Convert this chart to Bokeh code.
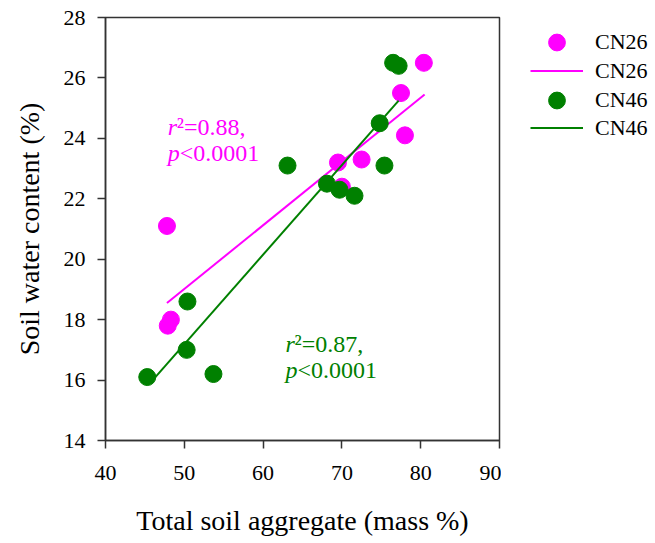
from bokeh.plotting import figure
from bokeh.layouts import row
from bokeh.models import Legend, LegendItem, Range1d, FixedTicker
from bokeh.core.properties import value
from bokeh.embed import file_html
from bokeh.resources import INLINE

# ---- data ----
cn26_x = [47.8, 47.9, 48.3, 69.5, 70.0, 72.5, 77.5, 78.0, 80.4]
cn26_y = [21.1, 17.8, 18.0, 23.2, 22.4, 23.3, 25.5, 24.1, 26.5]
cn46_x = [45.3, 50.3, 50.4, 53.7, 63.1, 68.1, 69.7, 71.6, 74.8, 75.4, 76.5, 77.2]
cn46_y = [16.1, 17.0, 18.6, 16.2, 23.1, 22.5, 22.3, 22.1, 24.5, 23.1, 26.5, 26.4]
fit26_x = [47.8, 80.5]
fit26_y = [18.55, 25.45]
fit46_x = [46.3, 77.2]
fit46_y = [16.09, 25.25]
x_ticks = [40, 50, 60, 70, 80, 90]
y_ticks = [14, 16, 18, 20, 22, 24, 26, 28]
ann26_pos = (47.9, 24.36)
ann46_pos = (62.85, 17.2)
ann26_lines = [("r", "²=0.88,"), ("p", "<0.0001")]
ann46_lines = [("r", "²=0.87,"), ("p", "<0.0001")]
series_labels = ["CN26", "CN46"]

MAG = "#FF00FF"
GRN = "#008000"
FONT = "Liberation Serif"
AXC = "#333333"

p = figure(width=501, height=543, output_backend="svg", toolbar_location=None,
           x_range=Range1d(40, 90), y_range=Range1d(14, 28),
           min_border_left=105, min_border_top=17, min_border_right=2, min_border_bottom=103)
p.grid.visible = False
p.outline_line_color = AXC
p.outline_line_width = 1.5
p.background_fill_color = "white"
p.border_fill_color = "white"

for ax, ticks in ((p.xaxis, x_ticks), (p.yaxis, y_ticks)):
    ax.ticker = FixedTicker(ticks=ticks)
    ax.minor_tick_line_color = None
    ax.major_tick_in = 0
    ax.major_tick_out = 8
    ax.axis_line_color = AXC
    ax.axis_line_width = 1.5
    ax.major_tick_line_color = AXC
    ax.major_tick_line_width = 1.5
    ax.major_label_text_font = FONT
    ax.major_label_text_font_size = "22px"
    ax.major_label_text_color = "black"
    ax.axis_label_text_font = FONT
    ax.axis_label_text_font_size = "28px"
    ax.axis_label_text_font_style = "normal"
    ax.axis_label_text_color = "black"

p.xaxis.axis_label = "Total soil aggregate (mass %)"
p.yaxis.axis_label = "Soil water content (%)"
p.xaxis.major_label_standoff = 17
p.yaxis.major_label_standoff = 12
p.xaxis.axis_label_standoff = 22
p.yaxis.axis_label_standoff = 16

p.scatter(cn26_x, cn26_y, size=17, fill_color=MAG, line_color=MAG)
p.line(fit26_x, fit26_y, line_color=MAG, line_width=2)
p.scatter(cn46_x, cn46_y, size=17, fill_color=GRN, line_color=GRN)
p.line(fit46_x, fit46_y, line_color=GRN, line_width=2)

def annotate(pos, lines, color):
    x0, y0 = pos
    for i, (ital, rest) in enumerate(lines):
        dy = i * 26
        p.text(x=[x0], y=[y0], text=[ital], text_font=value(FONT), text_font_style="italic",
               text_font_size="24px", text_color=color, text_baseline="alphabetic",
               text_align="left", y_offset=dy)
        off = 9 if ital == "r" else 12
        p.text(x=[x0], y=[y0], text=[rest], text_font=value(FONT), text_font_style="normal",
               text_font_size="24px", text_color=color, text_baseline="alphabetic",
               text_align="left", x_offset=off, y_offset=dy)

annotate(ann26_pos, ann26_lines, MAG)
annotate(ann46_pos, ann46_lines, GRN)

# ---- legend panel (separate figure to the right of the frame; frames are aligned) ----
pl = figure(width=154, height=543, output_backend="svg", toolbar_location=None,
            x_axis_location=None, y_axis_location=None, min_border=0,
            x_range=Range1d(0, 1), y_range=Range1d(0, 1))
pl.grid.visible = False
pl.outline_line_color = None
pl.background_fill_color = "white"
pl.border_fill_color = "white"

# hidden copies of the series, used only for the legend swatches
d26 = pl.scatter(cn26_x, cn26_y, size=17, fill_color=MAG, line_color=MAG, visible=False)
dl26 = pl.line(fit26_x, fit26_y, line_color=MAG, line_width=2, visible=False)
d46 = pl.scatter(cn46_x, cn46_y, size=17, fill_color=GRN, line_color=GRN, visible=False)
dl46 = pl.line(fit46_x, fit46_y, line_color=GRN, line_width=2, visible=False)

def style_legend(lg):
    lg.glyph_width = 53
    lg.padding = 0
    lg.margin = 0
    lg.label_standoff = 12
    lg.label_text_font = FONT
    lg.label_text_font_size = "22px"
    lg.label_text_color = "black"
    lg.border_line_color = None
    lg.background_fill_alpha = 0
    lg.click_policy = "none"

# markers (rows 1 and 3)
leg_pts = Legend(items=[LegendItem(label=series_labels[0], renderers=[d26]),
                        LegendItem(label=series_labels[1], renderers=[d46])],
                 location=(29, 319))
style_legend(leg_pts)
leg_pts.glyph_height = 42
leg_pts.spacing = 16

# lines (rows 2 and 4)
leg_lines = Legend(items=[LegendItem(label=series_labels[0], renderers=[dl26]),
                          LegendItem(label=series_labels[1], renderers=[dl46])],
                   location=(29, 298))
style_legend(leg_lines)
leg_lines.glyph_height = 29
leg_lines.spacing = 28

pl.add_layout(leg_pts, "center")
pl.add_layout(leg_lines, "center")

layout = row(p, pl, spacing=0)
open("out.html", "w").write(file_html(layout, INLINE))
